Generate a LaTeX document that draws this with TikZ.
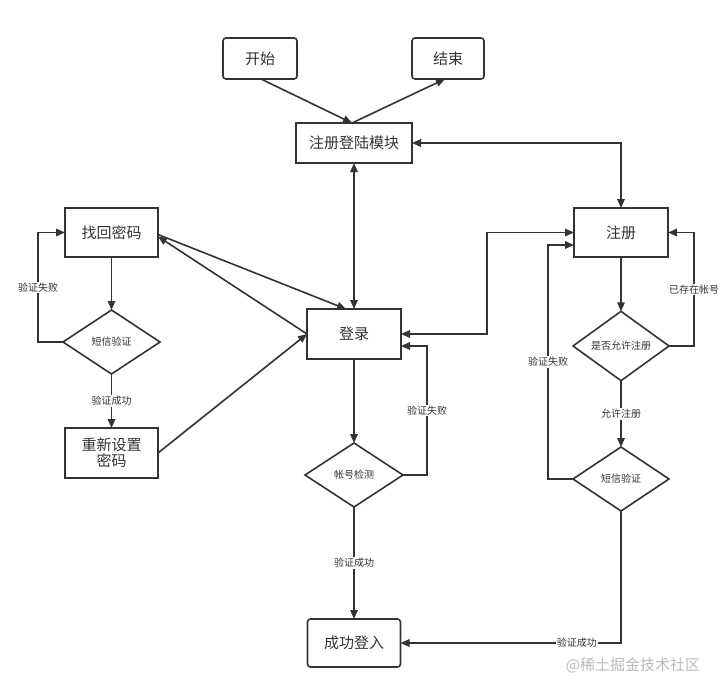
\documentclass[tikz,border=0pt]{standalone}
\usepackage{fontspec}
\setmainfont{Noto Sans CJK SC}
\usetikzlibrary{arrows.meta,shapes.geometric}
\definecolor{ink}{HTML}{333333}
\begin{document}
\begin{tikzpicture}[x=1pt,y=-1pt,
  every node/.style={text=ink},
  box/.style={draw=ink,line width=1.6pt,rectangle,inner sep=0pt,outer sep=0pt,font=\fontsize{15}{18}\selectfont,align=center},
  rbox/.style={box,rounded corners=3pt},
  dia/.style={draw=ink,line width=1.6pt,diamond,inner sep=0pt,outer sep=0pt,font=\fontsize{10}{12}\selectfont},
  arr/.style={draw=ink,line width=1.6pt,-{Triangle[length=9pt,width=7.5pt]}},
  darr/.style={draw=ink,line width=1.6pt,{Triangle[length=9pt,width=7.5pt]}-{Triangle[length=9pt,width=7.5pt]}},
  lbl/.style={fill=white,inner sep=1pt,font=\fontsize{10}{12}\selectfont}]
\useasboundingbox (0,0) rectangle (720,693);
% nodes
\node[rbox,minimum width=74pt,minimum height=41pt] (start) at (260,58.5) {开始};
\node[rbox,minimum width=72pt,minimum height=41pt] (end) at (448,58.5) {结束};
\node[box,minimum width=116pt,minimum height=40pt] (module) at (354,143) {注册登陆模块};
\node[box,minimum width=93pt,minimum height=49pt] (find) at (111.5,232.5) {找回密码};
\node[dia,minimum width=97pt,minimum height=64pt] (sms1) at (111.5,342) {短信验证};
\node[box,minimum width=93pt,minimum height=50pt] (reset) at (111.5,453) {重新设置\\[-2pt]密码};
\node[box,minimum width=94pt,minimum height=50pt] (login) at (354,334) {登录};
\node[dia,minimum width=98pt,minimum height=64pt] (check) at (354,475) {帐号检测};
\node[box,minimum width=94pt,minimum height=49pt] (reg) at (621,232.5) {注册};
\node[dia,minimum width=96pt,minimum height=63pt] (allow) at (621,346) {是否允许注册};
\node[dia,minimum width=96pt,minimum height=64pt] (sms2) at (621,479) {短信验证};
\node[rbox,minimum width=93pt,minimum height=48pt] (success) at (354,643) {成功登入};
\node[text=gray!55,font=\fontsize{15}{18}\selectfont] (wm) at (633,665) {@稀土掘金技术社区};
% connectors
\draw[arr] ([xshift=1pt]start.south) -- ([xshift=-2pt]module.north);
\draw[arr] ([xshift=-2pt]module.north) -- ([xshift=-3pt]end.south);
\draw[darr] (module.east) -| (reg.north);
\draw[darr] (module.south) -- (login.north);
\draw[arr] ([yshift=-2pt]find.east) -- ([xshift=-8pt]login.north);
\draw[arr] (login.west) -- ([yshift=-4pt]find.east);
\draw[arr] (reset.east) -- (login.west);
\draw[arr] (find.south) -- (sms1.north);
\draw[arr] (sms1.south) -- node[lbl]{验证成功} (reset.north);
\draw[arr] (sms1.west) -- ++(-25,0) |- node[lbl,pos=0.25]{验证失败} (find.west);
\draw[arr] (login.south) -- (check.north);
\draw[arr] (check.east) -- ++(24,0) |- node[lbl,pos=0.25]{验证失败} ([yshift=-12pt]login.east);
\draw[arr] (check.south) -- node[lbl]{验证成功} (success.north);
\draw[arr] (reg.south) -- (allow.north);
\draw[arr] (allow.east) -- ++(25,0) |- node[lbl,pos=0.25]{已存在帐号} (reg.east);
\draw[arr] (allow.south) -- node[lbl]{允许注册} (sms2.north);
\draw[arr] (sms2.west) -- ++(-25,0) |- node[lbl,pos=0.25]{验证失败} ([yshift=-12.5pt]reg.west);
\draw[darr] (login.east) -- ++(86,0) |- (reg.west);
\draw[arr] (sms2.south) |- node[lbl,pos=0.6]{验证成功} (success.east);
\end{tikzpicture}
\end{document}
